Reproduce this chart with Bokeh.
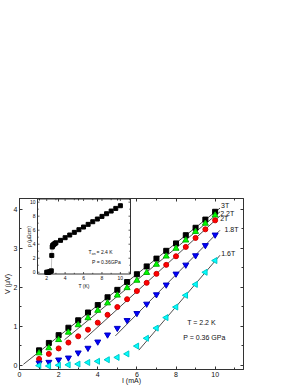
import numpy as np
from bokeh.plotting import figure
from bokeh.models import LinearAxis, Range1d, CustomJSTickFormatter, FixedTicker
from bokeh.core.properties import value
from bokeh.embed import file_html
from bokeh.resources import INLINE

FONT = "Liberation Sans"

# ---------------- data (main panel) ----------------
current = [1.0, 1.5, 2.0, 2.5, 3.0, 3.5, 4.0, 4.5, 5.0, 5.5,
           6.0, 6.5, 7.0, 7.5, 8.0, 8.5, 9.0, 9.5, 10.0]
v_3T = [0.38, 0.57, 0.77, 0.96, 1.15, 1.35, 1.54, 1.74, 1.93, 2.13,
        2.33, 2.53, 2.73, 2.93, 3.12, 3.33, 3.52, 3.73, 3.93]
v_22T = [0.31, 0.44, 0.65, 0.84, 1.03, 1.21, 1.40, 1.59, 1.79, 1.98,
         2.17, 2.37, 2.58, 2.79, 2.99, 3.20, 3.42, 3.63, 3.84]
v_2T = [0.16, 0.29, 0.43, 0.58, 0.74, 0.91, 1.09, 1.29, 1.49, 1.69,
        1.90, 2.11, 2.34, 2.57, 2.79, 3.03, 3.26, 3.48, 3.71]
v_18T = [0.06, 0.08, 0.14, 0.19, 0.32, 0.44, 0.60, 0.78, 0.95, 1.15,
         1.33, 1.57, 1.81, 2.06, 2.34, 2.57, 2.81, 3.07, 3.34]
v_16T = [-0.01, -0.02, 0.00, 0.01, 0.03, 0.07, 0.10, 0.14, 0.20, 0.29,
         0.49, 0.69, 0.95, 1.22, 1.49, 1.79, 2.07, 2.38, 2.68]
series_names = ["3T", "2.2T", "2T", "1.8T", "1.6T"]
fit_min_current = [4.0, 5.0, 6.0, 7.0, 7.5]   # points used for linear fits
fit_from = [0.2, 2.3, 3.3, 4.9, 6.1]          # extent of fit lines (mA)
fit_to = [10.25, 10.25, 10.25, 10.25, 10.25]

x_ticks = [0, 2, 4, 6, 8, 10]
x_minor = [1, 3, 5, 7, 9, 11]
y_ticks = [0, 1, 2, 3, 4]
y_minor = [0.5, 1.5, 2.5, 3.5]

# ---------------- data (inset) ----------------
temp = [2.0, 2.1, 2.2, 2.3, 2.4, 2.5, 2.55, 2.6, 2.65, 2.7, 2.8, 2.9, 3.0,
        3.5, 4.0, 4.5, 5.0, 5.5, 6.0, 6.5, 7.0, 7.5, 8.0, 8.5, 9.0, 9.5, 10.0]
rho = [0.0, 0.0, 0.0, 0.05, 0.1, 0.2, 2.4, 3.6, 3.8, 3.9, 4.0, 4.1, 4.2,
       4.55, 4.93, 5.31, 5.69, 6.07, 6.45, 6.83, 7.21, 7.59, 7.97, 8.35, 8.73, 9.11, 9.49]
ix_ticks = [2, 4, 6, 8, 10]
ix_minor = [1, 3, 5, 7, 9, 11]
iy_ticks = [0, 2, 4, 6, 8, 10]
iy_minor = [1, 3, 5, 7, 9]

# ---------------- layout constants ----------------
AX = "#333333"
TXT = "#111111"
FW, FH = 224, 171                      # main frame size (px)
XR = (0.0, 11.45)
YR = (-0.11, 4.27)
IXR = (1.0, 11.1)                      # inset axis ranges
IYR = (-0.25, 10.45)
BOX_L, BOX_R, BOX_T, BOX_B = 18, 111, 0.5, 75.5   # inset box inside main frame (px)

sx = (BOX_R - BOX_L) / (IXR[1] - IXR[0])
sy = (BOX_B - BOX_T) / (IYR[1] - IYR[0])
ix0 = IXR[0] - BOX_L / sx
iy0 = IYR[0] - (FH - BOX_B) / sy

blank = CustomJSTickFormatter(code="return ''")


def style_axis(ax, major, minor, fs, show_labels=True):
    ax.ticker = FixedTicker(ticks=major, minor_ticks=minor)
    ax.major_tick_in = 3
    ax.major_tick_out = 0
    ax.minor_tick_in = 2
    ax.minor_tick_out = 0
    ax.axis_line_color = AX
    ax.major_tick_line_color = AX
    ax.minor_tick_line_color = AX
    ax.major_label_text_font = FONT
    ax.major_label_text_font_size = fs
    ax.major_label_text_color = TXT
    ax.axis_label_text_font = FONT
    ax.axis_label_text_font_size = fs
    ax.axis_label_text_font_style = "normal"
    ax.axis_label_text_color = TXT
    ax.major_label_standoff = 2
    if not show_labels:
        ax.formatter = blank
        ax.major_label_standoff = 0


# ---------------- main figure ----------------
p = figure(frame_width=FW, frame_height=FH, x_range=Range1d(*XR), y_range=Range1d(*YR),
           output_backend="svg", toolbar_location=None,
           min_border_top=198, min_border_right=40, min_border_left=0, min_border_bottom=0,
           y_axis_label="V (μV)")
p.grid.visible = False
p.outline_line_color = AX
p.background_fill_color = "white"
p.extra_x_ranges = {"ix": Range1d(ix0, ix0 + FW / sx)}
p.extra_y_ranges = {"iy": Range1d(iy0, iy0 + FH / sy)}
style_axis(p.xaxis[0], x_ticks, x_minor, "7px")
style_axis(p.yaxis[0], y_ticks, y_minor, "7px")
p.yaxis[0].axis_label_standoff = 0
top_ax = LinearAxis()
style_axis(top_ax, x_ticks, x_minor, "7px", show_labels=False)
p.add_layout(top_ax, "above")
right_ax = LinearAxis()
style_axis(right_ax, y_ticks, y_minor, "7px", show_labels=False)
p.add_layout(right_ax, "right")

# x-axis title on a bare second axis (bounded so the title sits left of centre)
title_ax = LinearAxis(axis_label="I (mA)", bounds=(0.0, 10.4),
                      ticker=FixedTicker(ticks=[]), formatter=blank)
title_ax.axis_line_color = None
title_ax.major_tick_line_color = None
title_ax.minor_tick_line_color = None
title_ax.major_label_standoff = 0
title_ax.major_label_text_font_size = "1px"
title_ax.axis_label_text_font = FONT
title_ax.axis_label_text_font_size = "7px"
title_ax.axis_label_text_font_style = "normal"
title_ax.axis_label_text_color = TXT
title_ax.axis_label_standoff = -3
p.add_layout(title_ax, "below")

series = [v_3T, v_22T, v_2T, v_18T, v_16T]
I = np.array(current)
for vals, thr, a, b in zip(series, fit_min_current, fit_from, fit_to):
    v = np.array(vals)
    m = I >= thr
    k, c = np.polyfit(I[m], v[m], 1)
    xs = np.array([a, b])
    p.line(xs, k * xs + c, color="black", line_width=0.7)

p.scatter(current, v_3T, marker="square", size=5, fill_color="black", line_color="black")
p.scatter(current, v_22T, marker="triangle", size=6, fill_color="#00ff00", line_color="#00b000")
p.scatter(current, v_2T, marker="circle", size=5, fill_color="#ff0000", line_color="#d00000")
p.scatter(current, v_18T, marker="inverted_triangle", size=6, fill_color="#0000ff", line_color="#0000c0")
p.scatter(current, v_16T, marker="triangle", angle=np.pi / 2, size=6,
          fill_color="#00ffff", line_color="#00c8c8")

p.text(x=[10.3, 10.26, 10.26, 10.48, 10.31], y=[4.09, 3.88, 3.75, 3.48, 2.86],
       text=series_names, text_font=value(FONT), text_font_size="7px",
       text_align="left", text_baseline="middle", text_color=TXT)
p.text(x=[9.3, 9.45], y=[1.10, 0.72], text=["T = 2.2 K", "P = 0.36 GPa"],
       text_font=value(FONT), text_font_size="7px", text_align="center",
       text_baseline="middle", text_color=TXT)

# ---------------- inset (drawn on extra ranges) ----------------
R = dict(x_range_name="ix", y_range_name="iy")
p.quad(left=[IXR[0]], right=[IXR[1]], bottom=[IYR[0]], top=[IYR[1]],
       fill_color="white", line_color=AX, line_width=1, **R)

tx = 2 / sx   # major tick length (2 px) in inset units
ty = 2 / sy
mx = 1.2 / sx
my = 1.2 / sy
xt = np.array(ix_ticks, dtype=float)
xm = np.array(ix_minor, dtype=float)
yt = np.array(iy_ticks, dtype=float)
ym = np.array(iy_minor, dtype=float)
for arr, ln in ((xt, ty), (xm, my)):
    p.segment(x0=arr, y0=np.full_like(arr, IYR[0]), x1=arr, y1=np.full_like(arr, IYR[0]) + ln,
              line_color=AX, line_width=0.8, **R)
    p.segment(x0=arr, y0=np.full_like(arr, IYR[1]), x1=arr, y1=np.full_like(arr, IYR[1]) - ln,
              line_color=AX, line_width=0.8, **R)
for arr, ln in ((yt, tx), (ym, mx)):
    p.segment(x0=np.full_like(arr, IXR[0]), y0=arr, x1=np.full_like(arr, IXR[0]) + ln, y1=arr,
              line_color=AX, line_width=0.8, **R)
    p.segment(x0=np.full_like(arr, IXR[1]), y0=arr, x1=np.full_like(arr, IXR[1]) - ln, y1=arr,
              line_color=AX, line_width=0.8, **R)

p.text(x=ix_ticks, y=[IYR[0]] * len(ix_ticks), text=[str(t) for t in ix_ticks],
       text_font=value(FONT), text_font_size="5px", text_align="center",
       text_baseline="top", y_offset=2, text_color=TXT, **R)
p.text(x=[IXR[0]] * len(iy_ticks), y=iy_ticks, text=[str(t) for t in iy_ticks],
       text_font=value(FONT), text_font_size="5px", text_align="right",
       text_baseline="middle", x_offset=-2, text_color=TXT, **R)
p.text(x=[(IXR[0] + IXR[1]) / 2], y=[IYR[0]], text=["T (K)"],
       text_font=value(FONT), text_font_size="5px", text_align="center",
       text_baseline="top", y_offset=8.5, text_color=TXT, **R)
p.text(x=[IXR[0]], y=[(IYR[0] + IYR[1]) / 2], text=["ρ (μΩcm)"], angle=np.pi / 2,
       text_font=value(FONT), text_font_size="5px", text_align="center",
       text_baseline="middle", x_offset=-9, text_color=TXT, **R)

p.line(temp, rho, color="#888888", line_width=0.5, **R)
p.scatter(temp, rho, marker="square", size=4, fill_color="black", line_color="black", **R)

p.text(x=[6.55], y=[2.86], text=["T"], text_font=value(FONT), text_font_size="5px",
       text_align="left", text_baseline="middle", text_color=TXT, **R)
p.text(x=[6.55], y=[2.86], text=["on"], text_font=value(FONT), text_font_size="3.5px",
       text_align="left", text_baseline="middle", x_offset=3.2, y_offset=1.5,
       text_color=TXT, **R)
p.text(x=[6.55], y=[2.86], text=["= 2.4 K"], text_font=value(FONT), text_font_size="5px",
       text_align="left", text_baseline="middle", x_offset=8, text_color=TXT, **R)
p.text(x=[6.92], y=[1.43], text=["P = 0.36GPa"], text_font=value(FONT), text_font_size="5px",
       text_align="left", text_baseline="middle", text_color=TXT, **R)

open("out.html", "w").write(file_html(p, INLINE))
